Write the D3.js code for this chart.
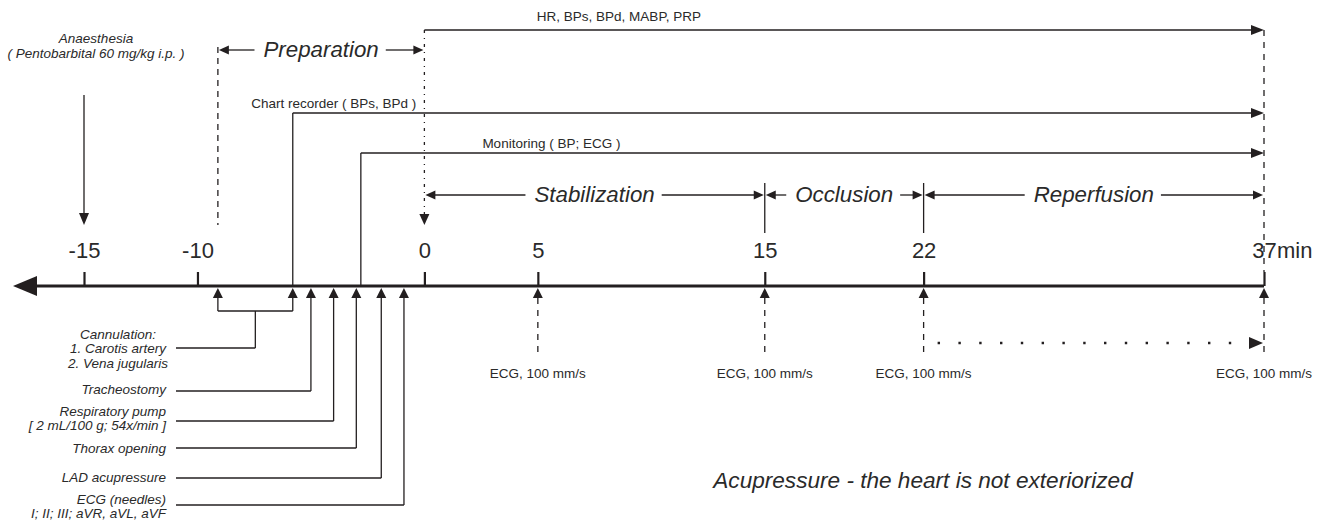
<!DOCTYPE html>
<html>
<head>
<meta charset="utf-8">
<script src="https://d3js.org/d3.v7.min.js"></script>
<style>
  body { margin: 0; background: #fff; }
  svg { display: block; font-family: "Liberation Sans", Arial, sans-serif; }
</style>
</head>
<body>
<svg width="1326" height="522"></svg>
<script>
// time axis (min)
var tickValues = [-15, -10, 0, 5, 15, 22, 37];
var axisUnit = "min";

// protocol phases
var phaseNames = ["Preparation", "Stabilization", "Occlusion", "Reperfusion"];
var phaseStart = [-9.1, 0, 15, 22];
var phaseEnd = [0, 15, 22, 37];

// anaesthesia
var anaesthesiaTime = -15;
var anaesthesiaText = ["Anaesthesia", "( Pentobarbital 60 mg/kg i.p. )"];

// recordings running until the end
var recNames = ["HR, BPs, BPd, MABP, PRP", "Chart recorder ( BPs, BPd )", "Monitoring ( BP; ECG )"];
var recStart = [0, -5.8, -2.8];
var recEnd = 37;

// surgical steps
var cannulationTimes = [-9.1, -5.8];
var cannulationText = ["Cannulation:", "1. Carotis artery", "2. Vena jugularis"];
var stepNames = [["Tracheostomy"], ["Respiratory pump", "[ 2 mL/100 g; 54x/min ]"], ["Thorax opening"],
                 ["LAD acupressure"], ["ECG (needles)", "I; II; III; aVR, aVL, aVF"]];
var stepTimes = [-5, -4, -3, -1.9, -0.9];

// ECG recordings
var ecgTimes = [5, 15, 22, 37];
var ecgText = "ECG, 100 mm/s";

var note = "Acupressure - the heart is not exteriorized";


var svg = d3.select("svg");
var ink = "#231f20";
var txt = "#2a2a2a";
var x = d3.scaleLinear().domain([-15, 37]).range([84, 1264]);
var axisY = 286;

// filled arrow head, tip at (px,py)
function head(px, py, dir, len, half) {
  var p;
  if (dir == "right") p = [[px, py], [px - len, py - half], [px - len, py + half]];
  else if (dir == "left") p = [[px, py], [px + len, py - half], [px + len, py + half]];
  else if (dir == "down") p = [[px, py], [px - half, py - len], [px + half, py - len]];
  else p = [[px, py], [px - half, py + len], [px + half, py + len]];
  svg.append("path").attr("d", "M" + p.join("L") + "Z").attr("fill", ink);
}
function line(x1, y1, x2, y2, w, dash) {
  var l = svg.append("line")
    .attr("x1", x1).attr("y1", y1).attr("x2", x2).attr("y2", y2)
    .attr("stroke", ink).attr("stroke-width", w || 1.3);
  if (dash) l.attr("stroke-dasharray", dash);
  return l;
}
function label(tx, ty, s, size, anchor, italic) {
  return svg.append("text").attr("x", tx).attr("y", ty).text(s)
    .attr("fill", txt).attr("font-size", size).attr("text-anchor", anchor || "middle")
    .attr("font-style", italic ? "italic" : "normal");
}

// ---- main axis
line(x.range()[0] - 47, axisY, x(37), axisY, 3);
head(x.range()[0] - 71, axisY, "left", 24, 10);

var axis = d3.axisTop(x).tickValues(tickValues).tickSize(14).tickPadding(14)
  .tickFormat(function(d) { return String(d); });
var gAxis = svg.append("g").attr("transform", "translate(0," + axisY + ")").call(axis)
  .attr("font-size", 22).attr("font-family", "Liberation Sans, Arial, sans-serif");
gAxis.select(".domain").remove();
gAxis.selectAll(".tick line").attr("stroke", ink).attr("stroke-width", 2.2);
gAxis.selectAll(".tick text").attr("fill", txt);
label(x(37) + 13, axisY - 28, axisUnit, 22, "start");

// ---- anaesthesia
line(x(anaesthesiaTime), 95, x(anaesthesiaTime), 214);
head(x(anaesthesiaTime), 225, "down", 12, 5);
anaesthesiaText.forEach(function(s, i) {
  label(x(anaesthesiaTime) + 12, 43 + i * 15, s, 13.5, "middle", true);
});

// ---- phase boundaries
line(x(phaseStart[0]), 47, x(phaseStart[0]), 225, 1.3, "6,5");
line(x(0), 30, x(0), 214, 1.3, "3,5,1,5");
head(x(0), 225, "down", 11, 5);
line(x(37), 30, x(37), 272, 1.3, "6,6");
[15, 22].forEach(function(t) { line(x(t), 183, x(t), 233); });

phaseNames.forEach(function(name, i) {
  var yRow = i == 0 ? 50 : 195;
  var x0 = x(phaseStart[i]), x1 = x(phaseEnd[i]), mid = (x0 + x1) / 2;
  var t = label(mid, yRow + 7, name, 22.3, "middle", true);
  var w = t.node().getComputedTextLength();
  line(x0 + 8, yRow, mid - w / 2 - 9, yRow);
  line(mid + w / 2 + 7, yRow, x1 - 8, yRow);
  head(x0 + 1, yRow, "left", 10, 4.5);
  head(x1 - 1, yRow, "right", 10, 4.5);
});

// ---- recordings
var recY = [30, 113, 153];
recNames.forEach(function(name, i) {
  var xs = x(recStart[i]);
  if (i > 0) line(xs, axisY, xs, recY[i]);
  line(xs, recY[i], x(recEnd) - 12, recY[i]);
  head(x(recEnd), recY[i], "right", 13, 5);
});
label(x(5) - 1, 21, recNames[0], 13.5, "start");
label(x(0) - 8, 108, recNames[1], 13.5, "end");
label(x(0) + 58, 148, recNames[2], 13.5, "start");

// ---- surgical steps below the axis
var tipY = axisY + 2, baseY = axisY + 12;
cannulationTimes.forEach(function(t) {
  head(x(t), tipY, "up", 10, 5);
  line(x(t), baseY, x(t), 311);
});
var cMid = (x(cannulationTimes[0]) + x(cannulationTimes[1])) / 2;
line(x(cannulationTimes[0]), 311, x(cannulationTimes[1]), 311);
line(cMid, 311, cMid, 348);
line(176, 348, cMid, 348);
cannulationText.forEach(function(s, i) {
  label(118, 338.5 + i * 14.5, s, 13.5, "middle", true);
});

var stepY = [391, 421, 448, 478, 505];
var stepTextY = [393.5, 415.5, 452.5, 481.5, 503.5];
stepNames.forEach(function(lines, i) {
  var xs = x(stepTimes[i]);
  head(xs, tipY, "up", 10, 5);
  line(xs, baseY, xs, stepY[i]);
  line(176, stepY[i], xs, stepY[i]);
  lines.forEach(function(s, j) {
    label(166, stepTextY[i] + j * 14.5, s, 13.5, "end", true);
  });
});

// ---- ECG recordings
ecgTimes.forEach(function(t) {
  head(x(t), tipY, "up", 10, 5);
  line(x(t), baseY, x(t), 356, 1.3, "6,6");
  label(x(t), 378, ecgText, 13.5, "middle");
});
line(x(22) + 14, 343, x(37) - 15, 343, 2.4, "2.4,18.4");
head(x(37) - 1, 343, "right", 14, 6);

// ---- note
label(923, 488, note, 22.6, "middle", true);
</script>
</body>
</html>
